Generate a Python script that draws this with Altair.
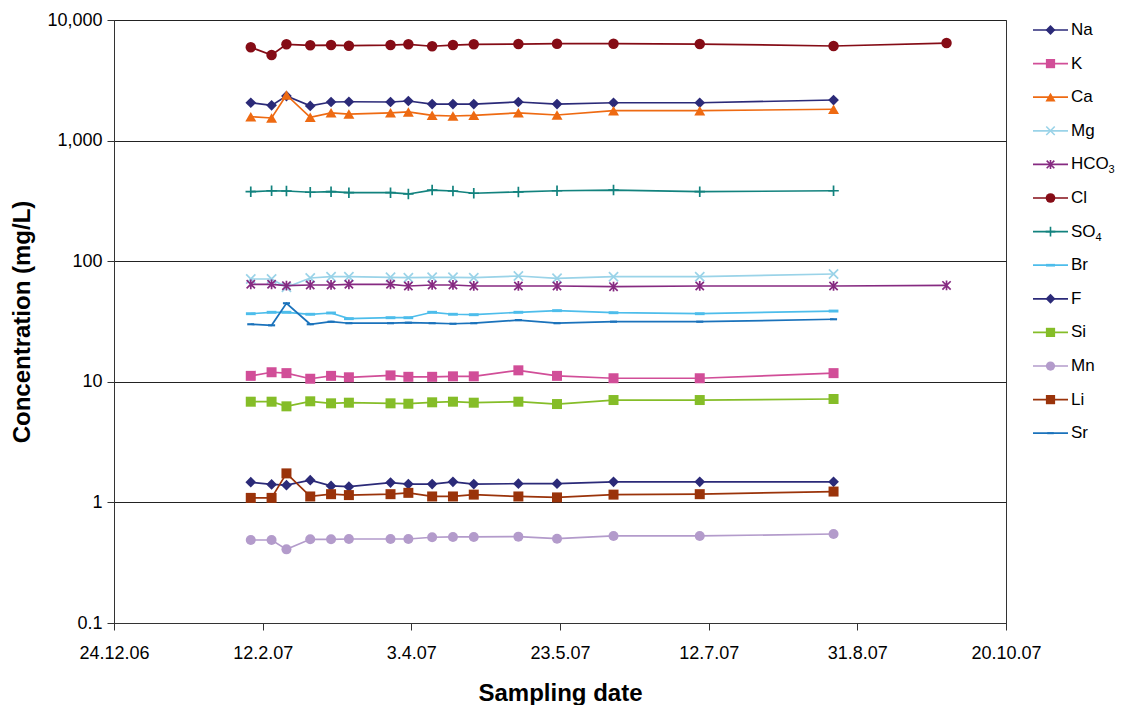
import altair as alt
import pandas as pd

# ---------------- data ----------------
DATES = ["2007-02-08", "2007-02-15", "2007-02-20", "2007-02-28", "2007-03-07",
         "2007-03-13", "2007-03-27", "2007-04-02", "2007-04-10", "2007-04-17",
         "2007-04-24", "2007-05-09", "2007-05-22", "2007-06-10", "2007-07-09",
         "2007-08-23", "2007-09-30"]

SERIES = ["Na", "K", "Ca", "Mg", "HCO3", "Cl", "SO4", "Br", "F", "Si", "Mn", "Li", "Sr"]
LABELS = ["Na", "K", "Ca", "Mg", "HCO", "Cl", "SO", "Br", "F", "Si", "Mn", "Li", "Sr"]
SUBSCRIPTS = ["", "", "", "", "3", "", "4", "", "", "", "", "", ""]

NA = [2060, 1960, 2340, 1940, 2090, 2100, 2090, 2130, 2010, 2010, 2010, 2090, 2010, 2060, 2060, 2170, None]
K = [11.2, 12.0, 11.8, 10.6, 11.2, 10.9, 11.3, 11.0, 11.0, 11.1, 11.1, 12.45, 11.2, 10.7, 10.7, 11.8, None]
CA = [1580, 1540, 2390, 1560, 1700, 1660, 1700, 1730, 1620, 1600, 1620, 1700, 1630, 1770, 1770, 1820, None]
MG = [71.2, 71.2, 60.8, 72.6, 74.4, 74.4, 73.5, 73.0, 73.5, 73.5, 73.0, 75.4, 72.1, 74.4, 74.4, 78.3, None]
HCO3 = [64.3, 64.3, 62.7, 63.5, 63.5, 64.3, 64.3, 62.3, 63.5, 63.5, 62.3, 62.3, 62.3, 61.5, 62.3, 62.3, 63.0]
CL = [5940, 5130, 6290, 6170, 6200, 6120, 6200, 6290, 6060, 6200, 6290, 6320, 6360, 6360, 6320, 6090, 6440]
SO4 = [377, 384, 382, 373, 377, 370, 370, 361, 389, 382, 366, 375, 384, 389, 377, 384, None]
BR = [36.7, 37.7, 37.7, 36.3, 37.2, 33.4, 34.0, 34.0, 37.7, 36.3, 36.0, 37.7, 38.9, 37.4, 36.7, 38.6, None]
F = [1.47, 1.41, 1.39, 1.53, 1.37, 1.35, 1.46, 1.42, 1.42, 1.48, 1.42, 1.43, 1.43, 1.48, 1.48, 1.48, None]
SI = [6.84, 6.84, 6.26, 6.89, 6.63, 6.71, 6.63, 6.58, 6.76, 6.84, 6.71, 6.84, 6.54, 7.06, 7.06, 7.2, None]
MN = [0.488, 0.488, 0.408, 0.494, 0.494, 0.497, 0.497, 0.497, 0.514, 0.517, 0.517, 0.52, 0.50, 0.527, 0.527, 0.547, None]
LI = [1.09, 1.09, 1.74, 1.12, 1.17, 1.15, 1.17, 1.20, 1.12, 1.12, 1.16, 1.12, 1.10, 1.16, 1.17, 1.23, None]
SR = [30.0, 29.4, 44.8, 30.0, 31.5, 30.6, 30.6, 30.9, 30.6, 30.3, 30.6, 32.5, 30.6, 31.5, 31.5, 33.0, None]

VALUES = {"Na": NA, "K": K, "Ca": CA, "Mg": MG, "HCO3": HCO3, "Cl": CL, "SO4": SO4,
          "Br": BR, "F": F, "Si": SI, "Mn": MN, "Li": LI, "Sr": SR}

X_TICKS = ["2006-12-24", "2007-02-12", "2007-04-03", "2007-05-23", "2007-07-12", "2007-08-31", "2007-10-20"]
Y_TICKS = [0.1, 1, 10, 100, 1000, 10000]

# ---------------- styling ----------------
COLORS = {"Na": "#2B2A78", "K": "#D14E98", "Ca": "#EE6A12", "Mg": "#9AD3E8", "HCO3": "#862A81",
          "Cl": "#850C16", "SO4": "#12827E", "Br": "#4DBDEB", "F": "#2B2A78", "Si": "#85BD28",
          "Mn": "#B39BCB", "Li": "#9A330A", "Sr": "#1A72BB"}

ASTER = "M0,-1L0,1M-0.85,-0.85L0.85,0.85M-0.85,0.85L0.85,-0.85"
XSHAPE = "M-1,-1L1,1M-1,1L1,-1"
PLUS = "M-1,0L1,0M0,-1L0,1"
DASH = "M-1,-0.3L1,-0.3L1,0.3L-1,0.3Z"

# shape, size, filled
MARKERS = {"Na": ("diamond", 115, True), "K": ("square", 100, True), "Ca": ("triangle-up", 120, True),
           "Mg": (XSHAPE, 85, False), "HCO3": (ASTER, 95, False), "Cl": ("circle", 110, True),
           "SO4": (PLUS, 110, False), "Br": (DASH, 95, True), "F": ("diamond", 115, True),
           "Si": ("square", 100, True), "Mn": ("circle", 100, True), "Li": ("square", 100, True),
           "Sr": (DASH, 50, True)}

rows = []
for s in SERIES:
    for d, v in zip(DATES, VALUES[s]):
        if v is not None:
            rows.append({"series": s, "date": d, "value": v})
df = pd.DataFrame(rows)

leg_df = pd.DataFrame({"series": SERIES, "label": LABELS, "sub": SUBSCRIPTS,
                       "idx": list(range(len(SERIES)))})


def ms(d):
    return int(pd.Timestamp(d).value // 10**6)


FONT = "Liberation Sans"

x_enc = alt.X("date:T",
              scale=alt.Scale(type="utc", domain=[ms(X_TICKS[0]), ms(X_TICKS[-1])], nice=False),
              axis=alt.Axis(values=[ms(t) for t in X_TICKS], format="%-d.%-m.%y", title="Sampling date",
                            grid=False, tickSize=7, labelPadding=14, titlePadding=19,
                            labelFlush=False, labelOverlap=False))
y_enc = alt.Y("value:Q",
              scale=alt.Scale(type="log", domain=[0.1, 10000], nice=False),
              axis=alt.Axis(values=Y_TICKS, format=",~g", title="Concentration (mg/L)",
                            grid=True, tickSize=7, labelPadding=5, titlePadding=12))

base = alt.Chart(df)
main_layers = []
for s in SERIES:
    col = COLORS[s]
    shape, size, filled = MARKERS[s]
    flt = alt.datum.series == s
    line = base.mark_line(color=col, strokeWidth=1.7).encode(x=x_enc, y=y_enc).transform_filter(flt)
    if filled:
        pt = base.mark_point(shape=shape, size=size, filled=True, color=col, opacity=1, strokeWidth=0)
    else:
        pt = base.mark_point(shape=shape, size=size, filled=False, color=col, opacity=1, strokeWidth=1.7)
    pt = pt.encode(x=x_enc, y=y_enc).transform_filter(flt)
    main_layers += [line, pt]

main = alt.layer(*main_layers)

# ---------------- legend (drawn as marks at the right) ----------------
leg_y = alt.Y("idx:Q", scale=alt.Scale(domain=[-0.2976, 17.648], reverse=True, nice=False, zero=False),
              axis=None)
lbase = alt.Chart(leg_df)
leg_layers = []
for s in SERIES:
    col = COLORS[s]
    shape, size, filled = MARKERS[s]
    flt = alt.datum.series == s
    r = lbase.mark_rule(color=col, strokeWidth=1.7).encode(
        x=alt.value(919), x2=alt.value(954), y=leg_y).transform_filter(flt)
    if filled:
        p = lbase.mark_point(shape=shape, size=size * 0.85, filled=True, color=col, opacity=1, strokeWidth=0)
    else:
        p = lbase.mark_point(shape=shape, size=size * 0.85, filled=False, color=col, opacity=1, strokeWidth=1.6)
    p = p.encode(x=alt.value(936.5), y=leg_y).transform_filter(flt)
    leg_layers += [r, p]
txt = lbase.mark_text(align="left", baseline="middle", fontSize=17, font=FONT, color="black").encode(
    x=alt.value(957), y=leg_y, text="label:N")
leg_layers.append(txt)
# subscripts (HCO3, SO4)
sub_hco3 = lbase.mark_text(align="left", baseline="middle", fontSize=11, font=FONT, color="black", dy=6).encode(
    x=alt.value(994.5), y=leg_y, text="sub:N").transform_filter(alt.datum.series == "HCO3")
sub_so4 = lbase.mark_text(align="left", baseline="middle", fontSize=11, font=FONT, color="black", dy=6).encode(
    x=alt.value(981.5), y=leg_y, text="sub:N").transform_filter(alt.datum.series == "SO4")
leg_layers += [sub_hco3, sub_so4]
legend = alt.layer(*leg_layers)

chart = alt.layer(main, legend).resolve_scale(y="independent").properties(
    width=892, height=603,
    padding={"left": 106, "top": 12, "right": 110, "bottom": 82},
    autosize=alt.AutoSizeParams(type="none"),
    background="white",
).configure_view(stroke="#333", strokeWidth=1).configure_axis(
    labelFont=FONT, labelFontSize=18, labelColor="black",
    titleFont=FONT, titleFontSize=24, titleFontWeight="bold", titleColor="black",
    domainColor="#333", tickColor="#333", gridColor="#222", gridWidth=1,
)

chart.save("out.html", embed_options={"renderer": "svg", "actions": False})
